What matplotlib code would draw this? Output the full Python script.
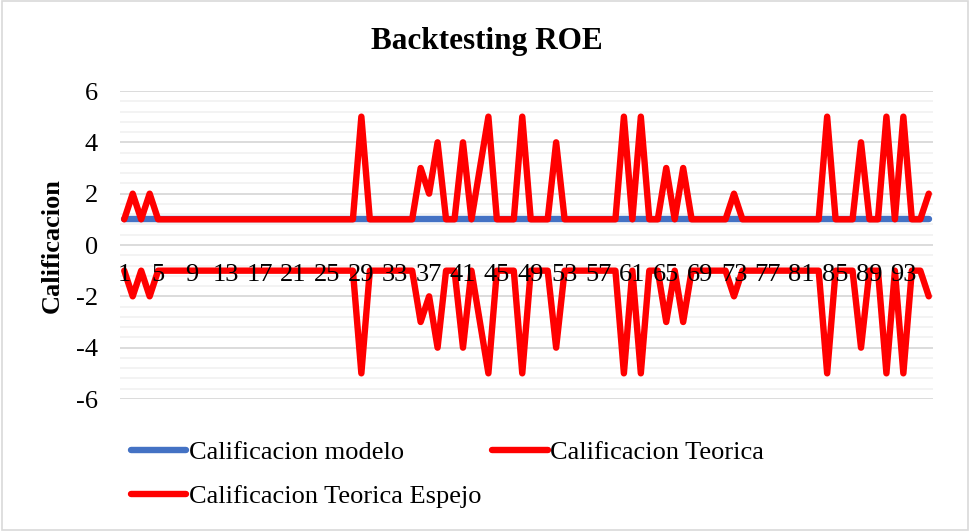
import numpy as np
import matplotlib
matplotlib.use('Agg')
import matplotlib.pyplot as plt
from matplotlib.patches import Rectangle
from matplotlib.ticker import MultipleLocator

plt.rcParams['font.family'] = ['Liberation Serif', 'DejaVu Serif']
plt.rcParams['axes.unicode_minus'] = False

# datos (96 periodos)
periodos = list(range(1, 97))
calif_modelo = [1] * 96
calif_teorica = [1, 2, 1, 2, 1, 1, 1, 1, 1, 1,
                 1, 1, 1, 1, 1, 1, 1, 1, 1, 1,
                 1, 1, 1, 1, 1, 1, 1, 1, 5, 1,
                 1, 1, 1, 1, 1, 3, 2, 4, 1, 1,
                 4, 1, 3, 5, 1, 1, 1, 5, 1, 1,
                 1, 4, 1, 1, 1, 1, 1, 1, 1, 5,
                 1, 5, 1, 1, 3, 1, 3, 1, 1, 1,
                 1, 1, 2, 1, 1, 1, 1, 1, 1, 1,
                 1, 1, 1, 5, 1, 1, 1, 4, 1, 1,
                 5, 1, 5, 1, 1, 2]
calif_espejo = [-v for v in calif_teorica]
etiquetas_x = [str(p) if (p - 1) % 4 == 0 else '' for p in periodos]

fig = plt.figure(figsize=(9.7, 5.31), dpi=100)
ax = fig.add_axes([120/970, 132/531, 813/970, 308/531])

lw = 4.6
l1, = ax.plot(periodos, calif_modelo, color='#4472C4', lw=lw, solid_capstyle='round',
              solid_joinstyle='round', label='Calificacion modelo', zorder=2)
l2, = ax.plot(periodos, calif_teorica, color='#FF0000', lw=lw, solid_capstyle='round',
              solid_joinstyle='round', label='Calificacion Teorica', zorder=3)
l3, = ax.plot(periodos, calif_espejo, color='#FF0000', lw=lw, solid_capstyle='round',
              solid_joinstyle='round', label='Calificacion Teorica Espejo', zorder=3)

ax.set_xlim(0.5, 96.5)
ax.set_ylim(-6, 6)
ax.yaxis.set_major_locator(MultipleLocator(2))
ax.yaxis.set_minor_locator(MultipleLocator(0.4))
ax.grid(axis='y', which='major', color='#d9d9d9', lw=1.3)
ax.grid(axis='y', which='minor', color='#f2f2f2', lw=1.3)
ax.set_axisbelow(True)
for s in ax.spines.values():
    s.set_visible(False)

ax.set_xticks(periodos)
ax.set_xticklabels(etiquetas_x)
ax.spines['bottom'].set_position(('data', 0))
ax.tick_params(axis='x', length=0, pad=14, labelsize=19)
ax.tick_params(axis='y', which='both', length=0, pad=16, labelsize=19)
ax.xaxis.set_zorder(5)

fig.text(487/970, 1 - 41/531, 'Backtesting ROE', ha='center', va='center',
         fontsize=22.5, fontweight='bold')
fig.text(52/970, 1 - 246/531, 'Calificacion', ha='center', va='center',
         rotation=90, fontsize=19, fontweight='bold')

leg = fig.legend([l1, l3, l2], ['Calificacion modelo', 'Calificacion Teorica Espejo', 'Calificacion Teorica'],
                 ncol=2, loc='upper left', bbox_to_anchor=(131/970, 1 - 441/531),
                 frameon=False, fontsize=19, handlelength=2.1, handletextpad=0.1,
                 columnspacing=0.4, labelspacing=0.75, borderaxespad=0, borderpad=0)

fig.patches.append(Rectangle((0.002, 0.002), 0.996, 0.996, transform=fig.transFigure,
                             fill=False, edgecolor='#d9d9d9', lw=1.2))

plt.savefig('out.png', dpi=100)
